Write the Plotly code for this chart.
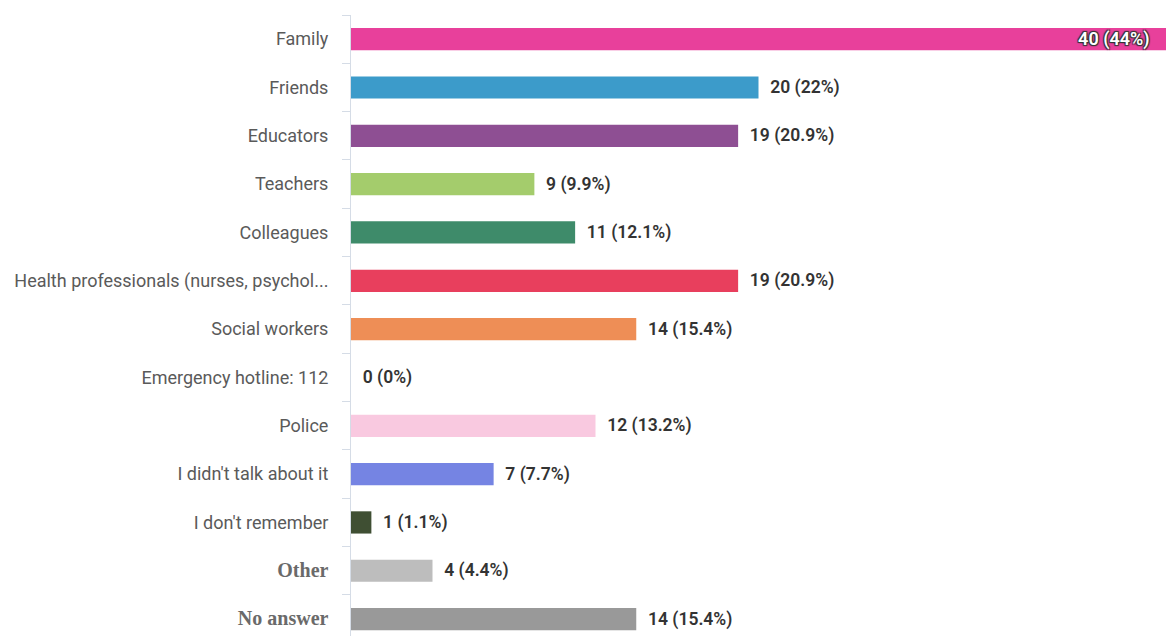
import plotly.graph_objects as go

categories = ["Family", "Friends", "Educators", "Teachers", "Colleagues",
              "Health professionals (nurses, psychol...", "Social workers",
              "Emergency hotline: 112", "Police", "I didn't talk about it",
              "I don't remember", "Other", "No answer"]
counts = [40, 20, 19, 9, 11, 19, 14, 0, 12, 7, 1, 4, 14]
percents = ["44", "22", "20.9", "9.9", "12.1", "20.9", "15.4", "0", "13.2", "7.7", "1.1", "4.4", "15.4"]
colors = ["#E8409B", "#3C9BCA", "#8E4F93", "#A4CC6C", "#3E8B6A", "#E83F5D",
          "#EE8E56", "#CCCCCC", "#F9C9E0", "#7584E3", "#3F4F33", "#BDBDBD", "#999999"]

tick_text = []
for c in categories:
    if c in ("Other", "No answer"):
        tick_text.append(f"<span style='font-family:Liberation Serif, DejaVu Serif, serif;font-weight:bold;font-size:20px;color:#6a6a6a;'>{c}</span>")
    else:
        tick_text.append(c)

texts = []
positions = []
for i, (n, p) in enumerate(zip(counts, percents)):
    if n == max(counts):
        texts.append(f"{n} ({p}%)\u00a0\u00a0\u00a0")
        positions.append("inside")
    else:
        texts.append(f"\u00a0\u00a0{n} ({p}%)")
        positions.append("outside")

fig = go.Figure(go.Bar(
    y=categories, x=counts, orientation="h",
    marker=dict(color=colors, line=dict(width=0)),
    width=0.46,
    text=texts, textposition=positions,
    insidetextanchor="end",
    constraintext="none",
    insidetextfont=dict(family="Roboto", size=18, color="#ffffff", weight=600,
                        shadow="1px 1px 1px #333, -1px -1px 1px #333, 1px -1px 1px #333, -1px 1px 1px #333"),
    outsidetextfont=dict(family="Roboto", size=17.5, color="#333333", weight=600),
    cliponaxis=False,
    hoverinfo="skip",
))

fig.update_layout(
    width=1166, height=636,
    margin=dict(l=351, r=0, t=15, b=0),
    plot_bgcolor="white", paper_bgcolor="white",
    showlegend=False,
    bargap=0.5,
)
fig.update_xaxes(range=[0, 40], showgrid=False, showticklabels=False, zeroline=False,
                 showline=False, ticks="")
fig.update_yaxes(
    categoryorder="array", categoryarray=categories,
    tickvals=categories, ticktext=tick_text,
    range=[12.35, -0.5],
    showline=True, linecolor="#D5DCE6", linewidth=1,
    ticks="outside", tickson="boundaries", ticklen=8, tickcolor="#D5DCE6",
    ticklabelstandoff=18,
    tickfont=dict(family="Roboto", size=18, color="#5a5a5a"),
    showgrid=False,
)

fig.write_html("out.html", config={"displayModeBar": False},
               post_script="document.body.style.margin='0';document.body.style.overflow='hidden';")
